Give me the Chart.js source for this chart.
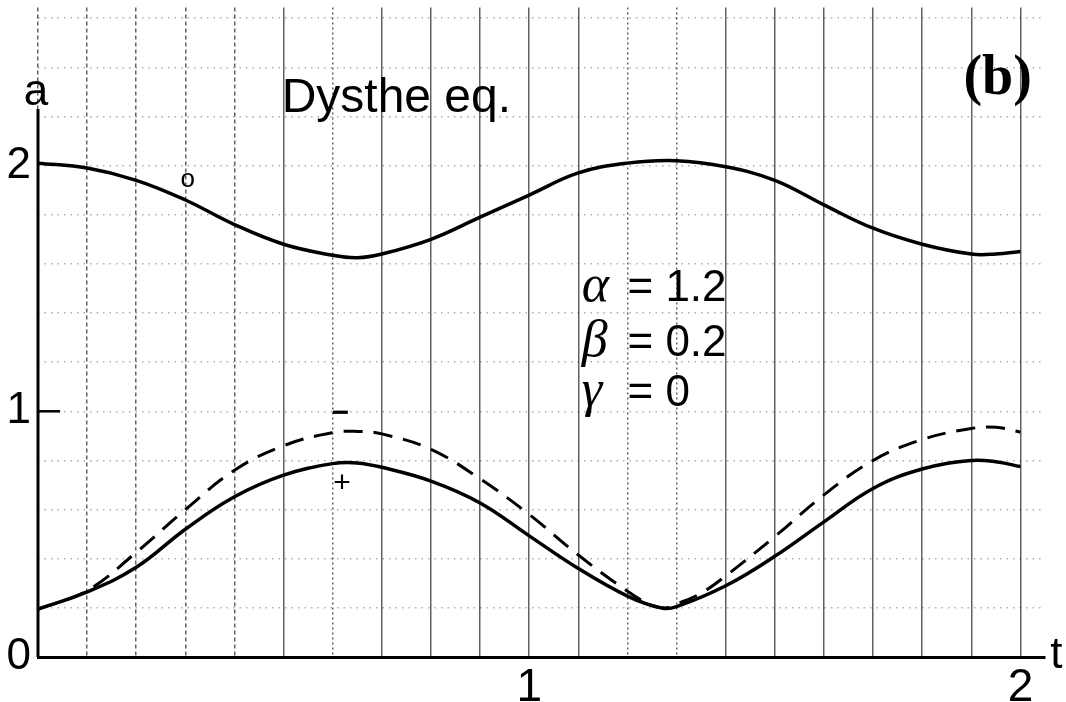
<!DOCTYPE html>
<html>
<head>
<meta charset="utf-8">
<script src="https://cdn.jsdelivr.net/npm/chart.js@4.4.1/dist/chart.umd.min.js"></script>
<style>
  html, body { margin: 0; padding: 0; background: #fff; }
  #wrap { width: 1066px; height: 702px; position: relative; background: #fff; }
</style>
</head>
<body>
<div id="wrap"><canvas id="c" width="1066" height="702"></canvas></div>
<script>
// ---- data ----
const tTop   = [0, 0.1, 0.2, 0.3, 0.4, 0.5, 0.6, 0.65, 0.7, 0.8, 0.9, 1.0, 1.1, 1.2, 1.3, 1.4, 1.5, 1.6, 1.7, 1.8, 1.9, 1.95, 2.0];
const aTop   = [2.01, 1.99, 1.94, 1.86, 1.76, 1.68, 1.635, 1.625, 1.64, 1.70, 1.79, 1.88, 1.97, 2.01, 2.02, 1.995, 1.94, 1.84, 1.745, 1.68, 1.64, 1.64, 1.65];

const tPlus  = [0, 0.1, 0.2, 0.3, 0.4, 0.5, 0.6, 0.65, 0.7, 0.8, 0.9, 1.0, 1.1, 1.2, 1.27, 1.3, 1.4, 1.5, 1.6, 1.7, 1.8, 1.9, 1.95, 2.0];
const aPlus  = [0.195, 0.265, 0.365, 0.52, 0.652, 0.74, 0.787, 0.79, 0.772, 0.716, 0.627, 0.493, 0.36, 0.248, 0.199, 0.205, 0.29, 0.41, 0.55, 0.686, 0.765, 0.80, 0.795, 0.775];

const tMinus = [0, 0.1, 0.2, 0.3, 0.4, 0.5, 0.6, 0.65, 0.7, 0.8, 0.9, 1.0, 1.1, 1.2, 1.25, 1.28, 1.3, 1.35, 1.4, 1.5, 1.6, 1.7, 1.8, 1.9, 1.95, 2.0];
const aMinus = [0.195, 0.27, 0.426, 0.60, 0.76, 0.86, 0.913, 0.918, 0.908, 0.845, 0.725, 0.58, 0.415, 0.268, 0.21, 0.2, 0.215, 0.26, 0.33, 0.49, 0.66, 0.80, 0.885, 0.93, 0.935, 0.915];

const xTickLabels = [1, 2];
const yTickLabels = [0, 1, 2];
const xLabel = 't';
const yLabel = 'a';
const titleText = 'Dysthe eq.';
const panelText = '(b)';
const paramGreek = ['α', 'β', 'γ'];
const paramValues = ['= 1.2', '= 0.2', '= 0'];
const curveMarks = ['o', '−', '+'];

// ---- helpers ----
const pts = (ts, as) => ts.map((t, i) => ({ x: t, y: as[i] }));
const near = (v, arr) => arr.some(k => Math.abs(v - k) < 1e-6);

const SANS = '"Liberation Sans", Arial, sans-serif';
const SERIF = '"Liberation Serif", "Times New Roman", serif';

const annotPlugin = {
  id: 'annot',
  afterDraw(chart) {
    const { ctx, scales: { x, y } } = chart;
    const X = v => x.getPixelForValue(v);
    const Y = v => y.getPixelForValue(v);
    ctx.save();
    ctx.fillStyle = '#000';
    ctx.strokeStyle = '#000';

    // y axis line (from 0 up to just below the label)
    ctx.lineWidth = 3;
    ctx.beginPath();
    ctx.moveTo(X(0), Y(0));
    ctx.lineTo(X(0), Y(2.23));
    ctx.stroke();
    // inward tick at a = 1
    ctx.lineWidth = 2.5;
    ctx.beginPath();
    ctx.moveTo(X(0), Y(1));
    ctx.lineTo(X(0.045), Y(1));
    ctx.stroke();

    ctx.textBaseline = 'alphabetic';
    // axis names
    ctx.font = '44px ' + SANS;
    ctx.textAlign = 'center';
    ctx.fillText(yLabel, X(-0.004), Y(2.247));
    ctx.fillText(xLabel, X(2.073), Y(-0.045));

    // title
    ctx.textAlign = 'left';
    ctx.font = '48px ' + SANS;
    ctx.fillText(titleText, X(0.496), Y(2.219));

    // panel label
    ctx.font = 'bold 56px ' + SERIF;
    ctx.fillText(panelText, X(1.884), Y(2.29));

    // parameters
    const rows = [1.448, 1.225, 1.022];
    rows.forEach((a, i) => {
      ctx.font = 'italic 52px ' + SERIF;
      ctx.fillText(paramGreek[i], X(1.107), Y(a));
      ctx.font = '44px ' + SANS;
      ctx.fillText(paramValues[i], X(1.20), Y(a));
    });

    // curve marks
    ctx.textAlign = 'center';
    ctx.textBaseline = 'middle';
    ctx.font = '26px ' + SANS;
    ctx.fillText(curveMarks[0], X(0.305), Y(1.943));
    ctx.font = 'bold 30px ' + SANS;
    ctx.fillText(curveMarks[1], X(0.616), Y(0.99));
    ctx.font = '30px ' + SANS;
    ctx.fillText(curveMarks[2], X(0.619), Y(0.706));
    ctx.restore();
  }
};

new Chart(document.getElementById('c'), {
  type: 'line',
  data: {
    datasets: [
      { label: 'o', data: pts(tTop, aTop), borderColor: '#000', borderWidth: 3.5, pointRadius: 0, tension: 0.4, fill: false },
      { label: '+', data: pts(tPlus, aPlus), borderColor: '#000', borderWidth: 3.5, pointRadius: 0, tension: 0.4, fill: false },
      { label: '−', data: pts(tMinus, aMinus), borderColor: '#000', borderWidth: 3, borderDash: [19, 11], pointRadius: 0, tension: 0.4, fill: false }
    ]
  },
  options: {
    responsive: false,
    animation: false,
    devicePixelRatio: 1,
    layout: { padding: { left: 0, right: 21, top: 0, bottom: 0 } },
    plugins: { legend: { display: false }, tooltip: { enabled: false }, title: { display: false } },
    scales: {
      x: {
        type: 'linear',
        min: 0, max: 2.05,
        afterFit: s => { s.height = 45; },
        border: {
          display: true, color: '#000', width: 3,
          dash: c => {
            const v = c.tick ? c.tick.value : 0;
            if (v < 0.45) return [4, 3];
            if (Math.abs(v - 0.6) < 1e-6 || Math.abs(v - 1.2) < 1e-6 || Math.abs(v - 1.3) < 1e-6) return [2, 3];
            return [];
          }
        },
        grid: {
          drawTicks: false,
          color: 'rgba(0,0,0,0.62)',
          lineWidth: 1.5
        },
        ticks: {
          stepSize: 0.1,
          includeBounds: false,
          autoSkip: false,
          maxRotation: 0,
          padding: 4,
          color: '#000',
          font: c => ({ family: SANS, size: (c.tick && near(c.tick.value, xTickLabels)) ? 46 : 1 }),
          callback: v => near(v, xTickLabels) ? String(Math.round(v)) : ''
        }
      },
      y: {
        type: 'linear',
        min: 0, max: 2.643,
        afterFit: s => { s.width = 38; },
        border: { display: false, dash: [1.5, 5] },
        grid: {
          drawTicks: false,
          color: 'rgba(0,0,0,0.32)',
          lineWidth: 1.5
        },
        ticks: {
          stepSize: 0.2,
          includeBounds: false,
          autoSkip: false,
          padding: 7,
          color: '#000',
          font: c => ({ family: SANS, size: (c.tick && near(c.tick.value, yTickLabels)) ? 44 : 1 }),
          callback: v => near(v, yTickLabels) ? String(Math.round(v)) : ''
        }
      }
    }
  },
  plugins: [annotPlugin]
});
</script>
</body>
</html>
